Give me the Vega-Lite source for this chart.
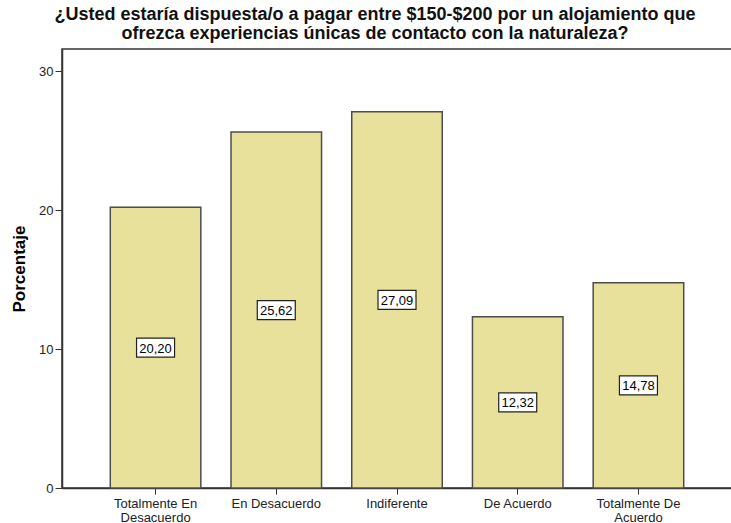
{
  "$schema": "https://vega.github.io/schema/vega-lite/v6.json",
  "autosize": "none",
  "width": 670,
  "height": 439,
  "padding": {"left": 62, "top": 49, "right": 0, "bottom": 35},
  "background": "white",
  "config": {
    "font": "Liberation Sans",
    "view": {"stroke": "#333333", "strokeWidth": 1.5}
  },
  "title": {
    "text": ["¿Usted estaría dispuesta/o a pagar entre $150-$200 por un alojamiento que", "ofrezca experiencias únicas de contacto con la naturaleza?"],
    "font": "Liberation Sans",
    "fontSize": 18,
    "fontWeight": "bold",
    "lineHeight": 19,
    "color": "#111111",
    "anchor": "middle",
    "dx": -22,
    "offset": 6
  },
  "data": {
    "values": [
      {"cat": "Totalmente En Desacuerdo", "pct": 20.20, "label": "20,20"},
      {"cat": "En Desacuerdo", "pct": 25.62, "label": "25,62"},
      {"cat": "Indiferente", "pct": 27.09, "label": "27,09"},
      {"cat": "De Acuerdo", "pct": 12.32, "label": "12,32"},
      {"cat": "Totalmente De Acuerdo", "pct": 14.78, "label": "14,78"}
    ]
  },
  "encoding": {
    "x": {
      "field": "cat",
      "type": "nominal",
      "sort": null,
      "scale": {"paddingInner": 0.25, "paddingOuter": 0.4},
      "axis": {
        "title": null,
        "labelAngle": 0,
        "labelFontSize": 13,
        "labelColor": "#222222",
        "labelLineHeight": 14,
        "labelPadding": 3,
        "tickSize": 6,
        "tickColor": "#333333",
        "domainColor": "#333333",
        "domainWidth": 1.5,
        "labelExpr": "datum.value == 'Totalmente En Desacuerdo' ? ['Totalmente En', 'Desacuerdo'] : datum.value == 'Totalmente De Acuerdo' ? ['Totalmente De', 'Acuerdo'] : datum.value"
      }
    }
  },
  "layer": [
    {
      "mark": {"type": "bar", "fill": "#E8E19C", "stroke": "#4d4d4d", "strokeWidth": 1.5},
      "encoding": {
        "y": {
          "field": "pct",
          "type": "quantitative",
          "scale": {"domain": [0, 31.6], "nice": false},
          "axis": {
            "title": "Porcentaje",
            "titleFontSize": 17,
            "titleFontWeight": "bold",
            "titleColor": "#000000",
            "titlePadding": 10,
            "values": [0, 10, 20, 30],
            "grid": false,
            "labelFontSize": 13,
            "labelColor": "#222222",
            "labelPadding": 2,
            "tickSize": 7,
            "tickColor": "#333333",
            "domainColor": "#333333",
            "domainWidth": 1.5
          }
        }
      }
    },
    {
      "transform": [{"calculate": "datum.pct / 2", "as": "mid"}],
      "mark": {"type": "point", "shape": "M-1,-0.5H1V0.5H-1Z", "size": 1444, "filled": true, "fill": "white", "stroke": "#222222", "strokeWidth": 1.2, "opacity": 1},
      "encoding": {
        "y": {"field": "mid", "type": "quantitative"}
      }
    },
    {
      "transform": [{"calculate": "datum.pct / 2", "as": "mid"}],
      "mark": {"type": "text", "fontSize": 13, "color": "#000000", "baseline": "middle", "dy": 1},
      "encoding": {
        "y": {"field": "mid", "type": "quantitative"},
        "text": {"field": "label"}
      }
    }
  ]
}
